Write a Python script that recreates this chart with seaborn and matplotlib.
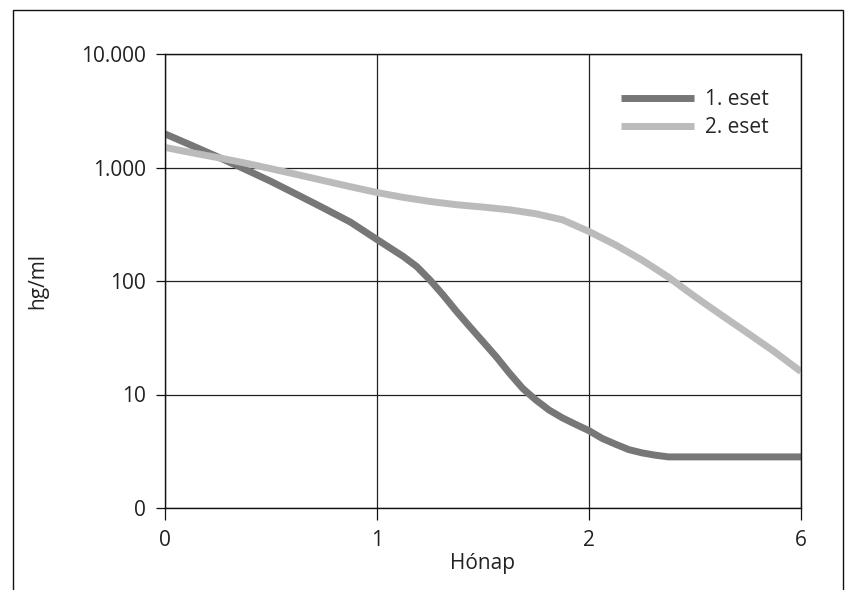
import pandas as pd
import matplotlib.pyplot as plt
import seaborn as sns

# month axis is evenly spaced: positions 0..3 carry the labels 0, 1, 2, 6
month_ticks = [0, 1, 2, 3]
month_labels = ['0', '1', '2', '6']

# 1. eset (dark curve)
pos1 = [0, 0.125, 0.25, 0.375, 0.5, 0.625, 0.75, 0.875, 1.0,
        1.0625, 1.125, 1.1875, 1.25, 1.3125, 1.375, 1.4375, 1.5,
        1.5625, 1.625, 1.6875, 1.75, 1.8125, 1.875, 1.9375, 2.0,
        2.0625, 2.125, 2.1875, 2.25, 2.3125, 2.375, 2.5, 3.0]
eset1 = [1977, 1567, 1238, 970, 754, 575, 437, 330, 232,
         195, 164, 134, 102, 75, 54, 39.6, 29.2,
         21.5, 15.4, 11.3, 8.93, 7.28, 6.22, 5.45, 4.8,
         4.1, 3.65, 3.27, 3.06, 2.92, 2.82, 2.82, 2.82]

# 2. eset (light curve)
pos2 = [0, 0.125, 0.25, 0.375, 0.5, 0.625, 0.75, 0.875, 1.0,
        1.125, 1.25, 1.375, 1.5, 1.625, 1.75, 1.875, 2.0,
        2.125, 2.25, 2.375, 2.5, 2.625, 2.75, 2.875, 3.0]
eset2 = [1504, 1350, 1222, 1097, 976, 865, 765, 677, 602,
         545, 502, 470, 448, 424, 391, 346, 273,
         208, 153, 108, 72.8, 50, 34.6, 23.8, 15.9]

y_ticks = [1, 10, 100, 1000, 10000]
y_labels = ['0', '10', '100', '1.000', '10.000']

df = pd.concat([
    pd.DataFrame({'pos': pos1, 'val': eset1, 'eset': '1. eset'}),
    pd.DataFrame({'pos': pos2, 'val': eset2, 'eset': '2. eset'}),
], ignore_index=True)

sns.set_style('white')
plt.rcParams['font.family'] = ['Open Sans', 'DejaVu Sans']

fig = plt.figure(figsize=(8.48, 5.90), dpi=100)
ax = fig.add_axes([165 / 848, 1 - 508 / 590, 636 / 848, 454 / 590])

sns.lineplot(data=df, x='pos', y='val', hue='eset',
             palette={'1. eset': '#777777', '2. eset': '#bbbbbb'},
             linewidth=5, ax=ax, legend=True)
for ln in ax.get_lines():
    ln.set_solid_capstyle('butt')
    ln.set_solid_joinstyle('round')

ax.set_yscale('log')
ax.set_ylim(1, 10000)
ax.set_xlim(0, 3)
ax.set_yticks(y_ticks)
ax.set_yticklabels(y_labels)
ax.minorticks_off()
ax.set_xticks(month_ticks)
ax.set_xticklabels(month_labels)

ax.grid(True, color='#222222', linewidth=0.9)
ax.set_axisbelow(True)
for sp in ax.spines.values():
    sp.set_color('#111111')
    sp.set_linewidth(1.0)

ax.tick_params(axis='both', direction='out', width=0.9, color='#111111',
               labelsize=15, labelcolor='#222222', left=True, bottom=True)
ax.tick_params(axis='x', length=8.5, pad=7)
ax.tick_params(axis='y', length=6.5, pad=7)
ax.set_xlabel('Hónap', fontsize=15, color='#222222', labelpad=2)
ax.set_ylabel('hg/ml', fontsize=15, color='#222222', labelpad=24)

ax.legend(title=None, frameon=False, loc='upper left',
          bbox_to_anchor=(0.717, 0.922), borderpad=0, borderaxespad=0,
          fontsize=15, handlelength=3.5, handletextpad=0.53,
          labelspacing=0.32)
for ln in ax.get_legend().get_lines():
    ln.set_linewidth(5)

# outer frame round the figure (open at the bottom edge)
fig.patches.append(plt.Rectangle((13 / 848, -0.02), 830 / 848, 1 - 10 / 590 + 0.02,
                                 transform=fig.transFigure, fill=False,
                                 edgecolor='#111111', linewidth=1.0))

fig.savefig('out.png', dpi=100)
